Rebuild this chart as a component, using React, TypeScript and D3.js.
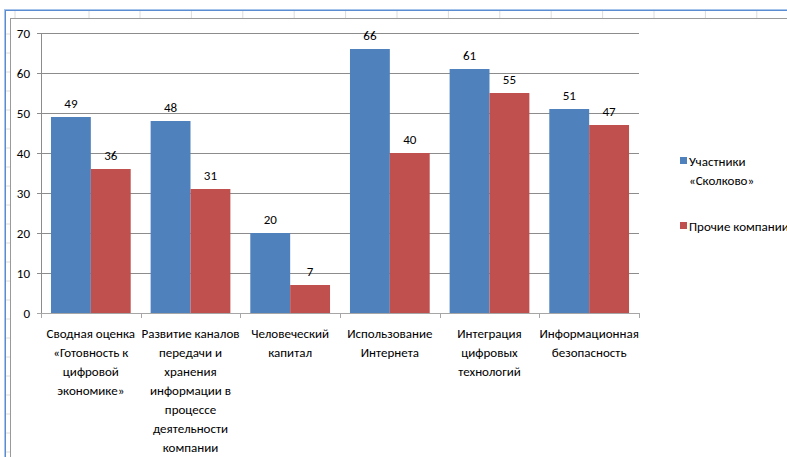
import React from "react";
import * as d3 from "d3";

const categories = [
  ["Сводная оценка", "«Готовность к", "цифровой", "экономике»"],
  ["Развитие каналов", "передачи и", "хранения", "информации в", "процессе", "деятельности", "компании"],
  ["Человеческий", "капитал"],
  ["Использование", "Интернета"],
  ["Интеграция", "цифровых", "технологий"],
  ["Информационная", "безопасность"],
];
const seriesNames = ["Участники «Сколково»", "Прочие компании"];
const skolkovo = [49, 48, 20, 66, 61, 51];
const others = [36, 31, 7, 40, 55, 47];
const yTicks = [0, 10, 20, 30, 40, 50, 60, 70];

const W = 787;
const H = 457;
const FONT = "Carlito, 'Liberation Sans Narrow', 'Open Sans', sans-serif";
const colors = ["#4F81BD", "#C0504D"];

const App = () => {
  const keys = categories.map((c, i) => String(i));
  const x = d3.scaleBand().domain(keys).range([41, 639]).padding(0);
  const xs = d3
    .scaleBand()
    .domain(seriesNames)
    .range([0, x.bandwidth()])
    .paddingInner(0)
    .paddingOuter(0.25);
  const y = d3.scaleLinear().domain([0, 70]).range([313, 33]);
  const values = [skolkovo, others];

  // spreadsheet column separators behind the chart
  const colLines = [15, 89].concat(d3.range(140, W, 51.4));
  const rowLines = d3.range(452, 18, -19);

  return (
    <div style={{ position: "fixed", left: 0, top: 0 }}>
      <svg width={W} height={H} style={{ display: "block", fontFamily: FONT }}>
        <rect width={W} height={H} fill="#fff" />
        {/* sheet frame */}
        <rect x={6} y={11} width={W} height={7} fill="#fff" />
        {colLines.map((cx, i) => (
          <line key={"c" + i} x1={cx} x2={cx} y1={11} y2={18} stroke="#dcdcdc" />
        ))}
        {rowLines.map((ry, i) => (
          <line key={"r" + i} x1={6} x2={10} y1={ry} y2={ry} stroke="#dcdcdc" />
        ))}
        <line x1={4} x2={W} y1={9.5} y2={9.5} stroke="#a9c4ea" />
        <line x1={4} x2={W} y1={10.5} y2={10.5} stroke="#5b8bd0" />
        <line x1={4.5} x2={4.5} y1={9} y2={H} stroke="#a9c4ea" />
        <line x1={5.5} x2={5.5} y1={10} y2={H} stroke="#5b8bd0" />
        {/* chart area border */}
        <line x1={10} x2={W} y1={18.5} y2={18.5} stroke="#9a9a9a" />
        <line x1={10.5} x2={10.5} y1={18} y2={H} stroke="#9a9a9a" />

        {/* gridlines and y axis */}
        {yTicks.map((t) => (
          <g key={t}>
            <line
              x1={37}
              x2={639}
              y1={Math.round(y(t)) + 0.5}
              y2={Math.round(y(t)) + 0.5}
              stroke={t === 0 ? "#a6a6a6" : "#8c8c8c"}
            />
            <text
              x={30}
              y={y(t)}
              dy="0.35em"
              textAnchor="end"
              fontSize={13}
              fill="#000"
            >
              {t}
            </text>
          </g>
        ))}
        <line x1={41.5} x2={41.5} y1={33} y2={313} stroke="#8c8c8c" />
        {keys.concat(["6"]).map((k, i) => {
          const tx = i < 6 ? (x(k) as number) : 639;
          return (
            <line
              key={"t" + i}
              x1={Math.round(tx) + 0.5}
              x2={Math.round(tx) + 0.5}
              y1={313}
              y2={318}
              stroke="#a6a6a6"
            />
          );
        })}

        {/* bars */}
        {keys.map((k, i) => (
          <g key={"b" + k} transform={`translate(${x(k)},0)`}>
            {seriesNames.map((s, j) => {
              const v = values[j][i];
              const bx = xs(s) as number;
              return (
                <g key={s}>
                  <rect
                    x={bx}
                    y={y(v)}
                    width={xs.bandwidth()}
                    height={y(0) - y(v)}
                    fill={colors[j]}
                  />
                  <text
                    x={bx + xs.bandwidth() / 2}
                    y={y(v) - 9}
                    textAnchor="middle"
                    fontSize={13}
                    fill="#000"
                  >
                    {v}
                  </text>
                </g>
              );
            })}
            {categories[i].map((line, li) => (
              <text
                key={li}
                x={x.bandwidth() / 2}
                y={338 + li * 19}
                textAnchor="middle"
                fontSize={13}
                fill="#000"
              >
                {line}
              </text>
            ))}
          </g>
        ))}

        {/* legend */}
        <rect x={680} y={157} width={7} height={7} fill={colors[0]} />
        <text x={689} y={166} fontSize={13} fill="#000">
          Участники
        </text>
        <text x={689} y={185} fontSize={13} fill="#000">
          «Сколково»
        </text>
        <rect x={680} y={222} width={7} height={7} fill={colors[1]} />
        <text x={689} y={231} fontSize={13} fill="#000">
          {seriesNames[1]}
        </text>
      </svg>
    </div>
  );
};

export default App;
